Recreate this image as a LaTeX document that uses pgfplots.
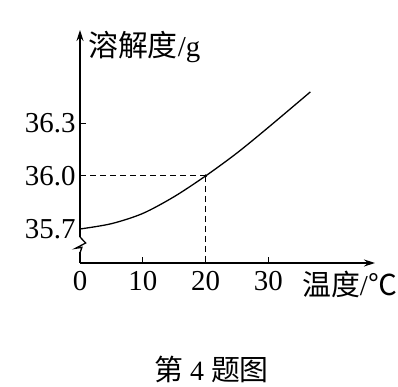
\documentclass[border=0pt]{standalone}
\usepackage{pgfplots}
\pgfplotsset{compat=1.18}
\usepackage{fontspec}
\setmainfont{Liberation Serif}
\newfontfamily\cjk{Noto Sans CJK SC}
\usetikzlibrary{arrows.meta}
\begin{document}
\begin{tikzpicture}[x=1bp,y=1bp]
\path[use as bounding box] (0,0) rectangle (398,387);
\begin{axis}[
  at={(80bp,124bp)}, anchor=south west,
  scale only axis, width=295bp, height=233bp,
  xmin=0, xmax=47, ymin=35.5075, ymax=36.8265,
  axis lines=left,
  axis line style={line width=1.3pt, -{Stealth[length=11bp,width=7bp]}},
  xtick={0,10,20,30}, xticklabels={0,10,20,30},
  ytick={35.7,36.0,36.3}, yticklabels={35.7,36.0,36.3},
  tick align=inside, major tick length=6bp,
  tick style={line width=1pt, black},
  /pgf/number format/assume math mode=true,
  tick label style={font=\fontsize{29}{33}\selectfont},
  xticklabel style={yshift=-5bp},
  yticklabel style={xshift=-1bp},
  clip=false,
]
\addplot[black, line width=1.3pt, smooth] coordinates {
 (0,35.700) (5,35.730) (10,35.788) (15,35.883) (20,36.000) (25,36.130) (30,36.275) (36.7,36.476)
};
\addplot[black, line width=1pt, dashed, dash pattern=on 6bp off 4bp] coordinates {(0,36.0) (20,36.0)};
\addplot[black, line width=1pt, dashed, dash pattern=on 6bp off 4bp] coordinates {(20,36.0) (20,35.5075)};
\addplot[black, only marks, mark=*, mark size=1.3pt] coordinates {(20,36.0)};
\coordinate (B1) at (axis cs:0,35.6547);
\coordinate (B2) at (axis cs:0.9,35.6207);
\coordinate (B3) at (axis cs:-0.7,35.5907);
\coordinate (B4) at (axis cs:0.3,35.5960);
\coordinate (B5) at (axis cs:0,35.5641);
\end{axis}
\draw[white, line width=4pt] ([yshift=-0.5bp]B1) -- ([yshift=0.5bp]B5);
\draw[black, line width=1.3pt, line join=miter] (B1) -- (B2) -- (B3) -- (B4) -- (B5);
\node[anchor=base west, inner sep=0pt, font=\fontsize{29}{33}\selectfont] at (88,331) {{\cjk\fontsize{30}{34}\selectfont 溶解度}/g};
\node[anchor=base west, inner sep=0pt, font=\fontsize{29}{33}\selectfont] at (302,92) {{\cjk 温度}/{\cjk ℃}};
\node[inner sep=0pt, font=\fontsize{28}{32}\selectfont] at (211.5,17.5) {{\cjk\fontsize{29}{33}\selectfont 第} 4 {\cjk\fontsize{29}{33}\selectfont 题图}};
\end{tikzpicture}
\end{document}
